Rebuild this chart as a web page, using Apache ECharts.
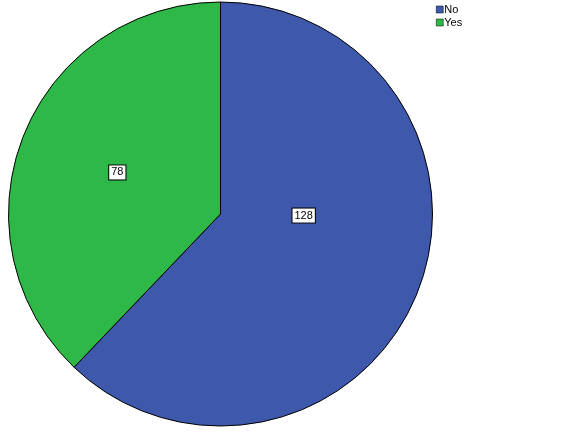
<!DOCTYPE html>
<html>
<head>
<meta charset="utf-8">
<script src="https://cdn.jsdelivr.net/npm/echarts@6/dist/echarts.min.js"></script>
<style>html,body{margin:0;padding:0;background:#fff}#c{width:580px;height:432px}</style>
</head>
<body>
<div id="c"></div>
<script>
const categories = ['No', 'Yes'];
const counts = [128, 78];
const colors = ['#3e58ac', '#2eb848'];
const labelOffsets = [[-18, -39], [-2, -1]];

const chart = echarts.init(document.getElementById('c'), null, {renderer: 'canvas'});
chart.setOption({
  animation: false,
  backgroundColor: '#ffffff',
  legend: {
    orient: 'vertical',
    left: 431,
    top: -1,
    itemWidth: 7,
    itemHeight: 7,
    itemGap: 2,
    icon: 'rect',
    textStyle: {fontFamily: 'Liberation Sans, Arial, sans-serif', fontSize: 11, color: '#000', padding: [0, 0, 0, -4]},
    itemStyle: {borderColor: '#000', borderWidth: 0.5},
    data: categories
  },
  series: [{
    type: 'pie',
    center: [220.5, 214],
    radius: [0, 212],
    startAngle: 90,
    clockwise: true,
    avoidLabelOverlap: false,
    labelLine: {show: false},
    itemStyle: {borderColor: '#000', borderWidth: 1},
    emphasis: {disabled: true},
    data: categories.map((n, i) => ({
      name: n,
      value: counts[i],
      itemStyle: {color: colors[i]},
      label: {
        show: true,
        position: 'inside',
        formatter: '{c}',
        offset: labelOffsets[i],
        backgroundColor: '#fff',
        borderColor: '#000',
        borderWidth: 1,
        padding: [2, 2, 1, 2],
        color: '#000',
        fontSize: 11,
        fontFamily: 'Liberation Sans, Arial, sans-serif'
      }
    }))
  }]
});
</script>
</body>
</html>
